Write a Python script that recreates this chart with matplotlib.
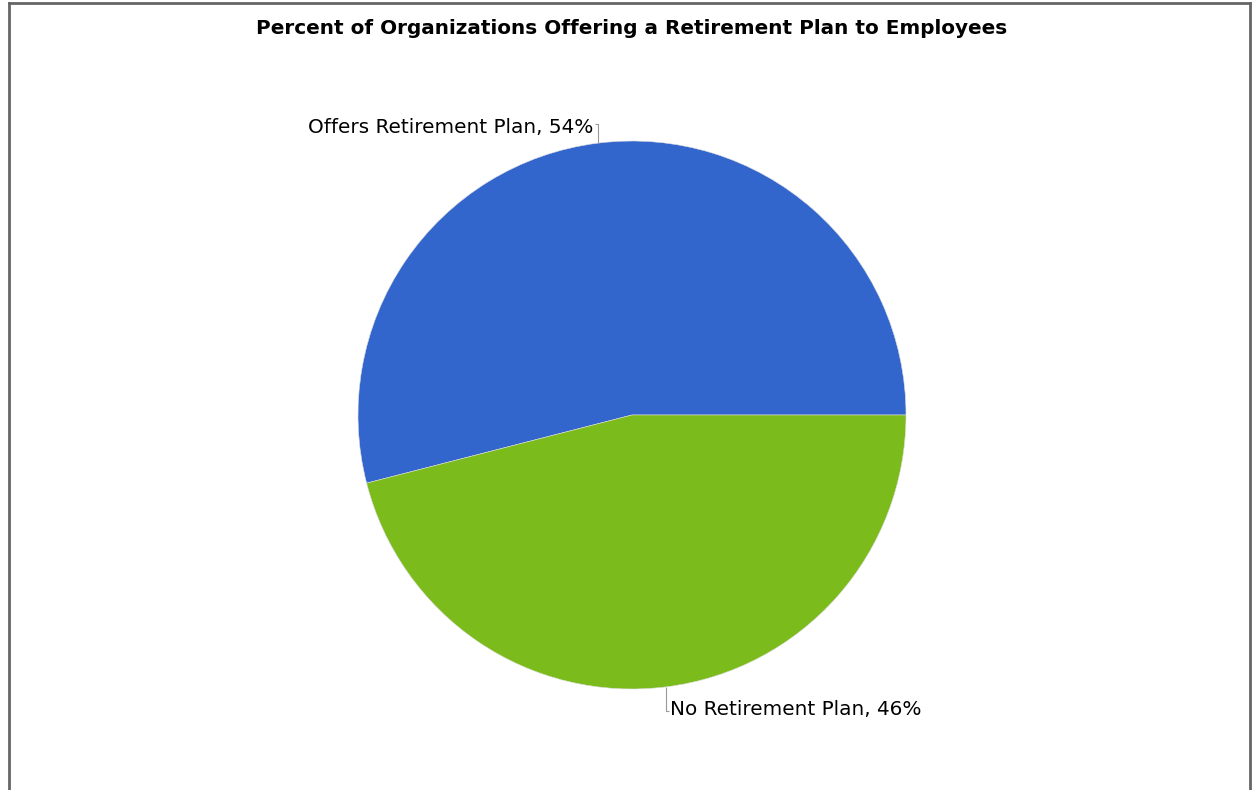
import numpy as np
import matplotlib
matplotlib.use("Agg")
from matplotlib import pyplot as plt
from matplotlib.lines import Line2D

categories = ["Offers Retirement Plan", "No Retirement Plan"]
shares = [54, 46]
colors = ["#3366CC", "#7BBB1C"]
title = "Percent of Organizations Offering a Retirement Plan to Employees"

W, H = 1260, 790
cx, cy, r = 632, 415, 274  # pie centre / radius in pixels

fig = plt.figure(figsize=(W / 100, H / 100), dpi=100)
ax = fig.add_axes([0, 0, 1, 1])

wedges, _ = ax.pie(
    shares,
    colors=colors,
    startangle=0,
    counterclock=True,
    radius=1,
    wedgeprops=dict(edgecolor="#dddddd", linewidth=0.4),
)

# map pixel space onto data units so that the pie keeps r == 1
ax.set_xlim(-cx / r, (W - cx) / r)
ax.set_ylim((cy - H) / r, cy / r)
ax.set_aspect("auto")
ax.axis("off")

# leader lines + labels
for w, name, val in zip(wedges, categories, shares):
    mid = np.deg2rad((w.theta1 + w.theta2) / 2)
    x0, y0 = np.cos(mid), np.sin(mid)
    side = 1 if y0 > 0 else -1
    y1 = 1.062 if side > 0 else -1.08
    dx = -0.011 if side > 0 else 0.011
    ax.plot([x0, x0, x0 + dx], [y0, y1, y1], color="#999999", lw=0.8,
            solid_capstyle="butt")
    ax.text(
        x0 + dx * 1.3,
        y1 - 0.011 if side > 0 else y1 + 0.007,
        f"{name}, {val}%",
        ha="right" if side > 0 else "left",
        va="center",
        fontsize=14.4,
        color="black",
    )

fig.text(cx / W, 1 - 28 / H, title, ha="center", va="center",
         fontsize=14.4, fontweight="bold")

# outer frame (open at the bottom)
frame = dict(color="#666666", lw=2, transform=fig.transFigure)
fig.add_artist(Line2D([9 / W, 9 / W], [0, 1 - 3 / H], **frame))
fig.add_artist(Line2D([1250 / W, 1250 / W], [0, 1 - 3 / H], **frame))
fig.add_artist(Line2D([9 / W, 1250 / W], [1 - 3 / H, 1 - 3 / H], **frame))

fig.savefig("out.png", dpi=100)
plt.close(fig)
